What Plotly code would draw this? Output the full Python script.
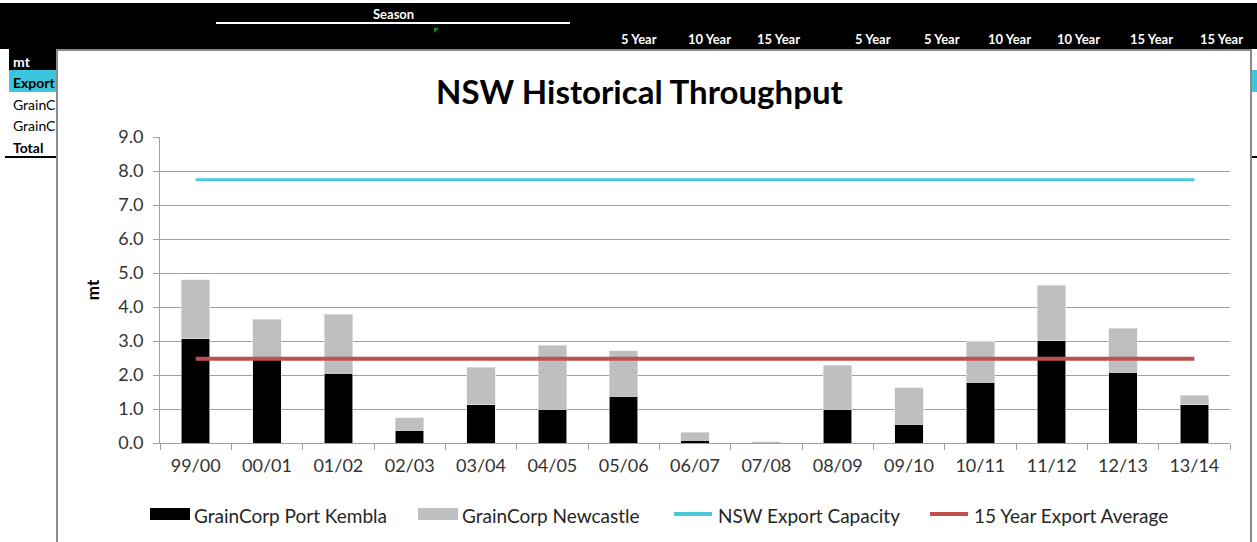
import plotly.graph_objects as go

# Seasons and throughput (million tonnes)
seasons = ["99/00", "00/01", "01/02", "02/03", "03/04", "04/05", "05/06", "06/07",
           "07/08", "08/09", "09/10", "10/11", "11/12", "12/13", "13/14"]
port_kembla = [3.06, 2.45, 2.05, 0.37, 1.12, 1.00, 1.38, 0.08,
               0.00, 1.00, 0.55, 1.78, 3.01, 2.08, 1.12]
newcastle = [1.74, 1.19, 1.74, 0.37, 1.11, 1.88, 1.33, 0.23,
             0.03, 1.28, 1.07, 1.21, 1.63, 1.30, 0.29]
export_capacity = [7.74] * len(seasons)
export_average = [2.48] * len(seasons)

y_ticks = [0, 1, 2, 3, 4, 5, 6, 7, 8, 9]
header_cols = ["5 Year", "10 Year", "15 Year", "5 Year", "5 Year",
               "10 Year", "10 Year", "15 Year", "15 Year"]
row_labels = ["GrainC", "GrainC"]

W, H = 1257, 542
ML, MR, MT, MB = 160, 27, 137, 99
PW, PH = W - ML - MR, H - MT - MB


def fx(px):
    return (px - ML) / PW


def fy(py):
    return (H - MB - py) / PH


FONT = "Lato, Calibri, sans-serif"
KEMBLA_C = "#000000"
NEWC_C = "#bfbfbf"
CAP_C = "#4bc6df"
AVG_C = "#c0504d"

fig = go.Figure()
fig.add_bar(x=seasons, y=port_kembla, name="GrainCorp Port Kembla",
            marker=dict(color=KEMBLA_C, line=dict(color="#e8e8e8", width=0.6)))
fig.add_bar(x=seasons, y=newcastle, name="GrainCorp Newcastle",
            marker=dict(color=NEWC_C, line=dict(color="#e8e8e8", width=0.6)))
fig.add_scatter(x=seasons, y=export_capacity, name="NSW Export Capacity",
                mode="lines", line=dict(color=CAP_C, width=3))
fig.add_scatter(x=seasons, y=export_average, name="15 Year Export Average",
                mode="lines", line=dict(color=AVG_C, width=4))

shapes = []
annotations = []


def rect(x0, y0, x1, y1, fill, line_color=None, line_width=0):
    shapes.append(dict(type="rect", xref="paper", yref="paper",
                       x0=fx(x0), x1=fx(x1), y0=fy(y1), y1=fy(y0),
                       fillcolor=fill, layer="below",
                       line=dict(color=line_color or fill, width=line_width)))


def text(px, py, s, size=13, color="#000", bold=False, xanchor="center", family=FONT):
    annotations.append(dict(xref="paper", yref="paper", x=fx(px), y=fy(py),
                            text=f"<b>{s}</b>" if bold else s, showarrow=False,
                            xanchor=xanchor, yanchor="middle",
                            font=dict(size=size, color=color, family=family)))


# worksheet behind the chart
rect(0, 3, W, 49, "#000000")
rect(9, 49, 57, 70, "#000000")
rect(9, 70, 57, 92, "#3ec5de")
rect(1252, 70, W, 92, "#3ec5de")
rect(5, 156, 57, 158, "#000000")
rect(1252, 156, W, 158, "#000000")
rect(216, 22, 570, 24, "#ffffff")
shapes.append(dict(type="path", xref="paper", yref="paper", layer="below",
                   path=f"M {fx(434)} {fy(28)} L {fx(439)} {fy(28)} L {fx(434)} {fy(33)} Z",
                   fillcolor="#1a8a1a", line=dict(width=0)))
text(393, 14, "Season", size=13, color="#ffffff", bold=True)
for px, s in zip([639, 709, 778, 873, 942, 1009, 1078, 1151, 1221], header_cols):
    text(px, 39, s, size=13, color="#ffffff", bold=True)
text(11, 61, "mt", size=14, color="#ffffff", bold=True, xanchor="left")
text(11, 82, "Export", size=14, color="#000000", bold=True, xanchor="left")
for py, s in zip([105, 126], row_labels):
    text(11, py, s, size=14, color="#000000", xanchor="left")
text(11, 147, "Total", size=14, color="#000000", bold=True, xanchor="left")

# chart frame
rect(57, 50, 1251, 560, "#ffffff", "#8a8a8a", 2)

# chart title and custom legend
text(640, 91, "NSW Historical Throughput", size=33, color="#000000", bold=True)
legend_items = [
    ("bar", KEMBLA_C, 150, "GrainCorp Port Kembla"),
    ("bar", NEWC_C, 418, "GrainCorp Newcastle"),
    ("line", CAP_C, 674, "NSW Export Capacity"),
    ("line", AVG_C, 930, "15 Year Export Average"),
]
for kind, color, px, label in legend_items:
    if kind == "bar":
        shapes.append(dict(type="rect", xref="paper", yref="paper",
                           x0=fx(px), x1=fx(px + 40), y0=fy(520), y1=fy(508),
                           fillcolor=color, line=dict(width=0)))
    else:
        shapes.append(dict(type="line", xref="paper", yref="paper",
                           x0=fx(px), x1=fx(px + 38), y0=fy(514), y1=fy(514),
                           line=dict(color=color, width=4)))
    text(px + 42, 515, label, size=19, color="#262626", xanchor="left")

fig.update_layout(
    width=W, height=H,
    margin=dict(l=ML, r=MR, t=MT, b=MB, pad=0),
    barmode="stack", bargap=0.6,
    paper_bgcolor="#ffffff", plot_bgcolor="rgba(0,0,0,0)",
    showlegend=False,
    font=dict(family=FONT, size=17, color="#333333"),
    shapes=shapes, annotations=annotations,
    xaxis=dict(type="category", showline=True, linecolor="#a0a0a0", linewidth=1,
               ticks="outside", ticklen=6, tickcolor="#a0a0a0", tickson="boundaries",
               showgrid=False, tickfont=dict(size=18, color="#333333"),
               ticklabelstandoff=6),
    yaxis=dict(range=[0, 9], tickvals=y_ticks, tickformat=".1f",
               showline=True, linecolor="#a0a0a0", linewidth=1,
               ticks="outside", ticklen=6, tickcolor="#a0a0a0",
               showgrid=True, gridcolor="#a0a0a0", gridwidth=1, zeroline=False,
               tickfont=dict(size=18, color="#333333"), ticklabelstandoff=6,
               title=dict(text="<b>mt</b>", standoff=14,
                          font=dict(size=17, color="#000000"))),
)

fig.write_html("out.html")
